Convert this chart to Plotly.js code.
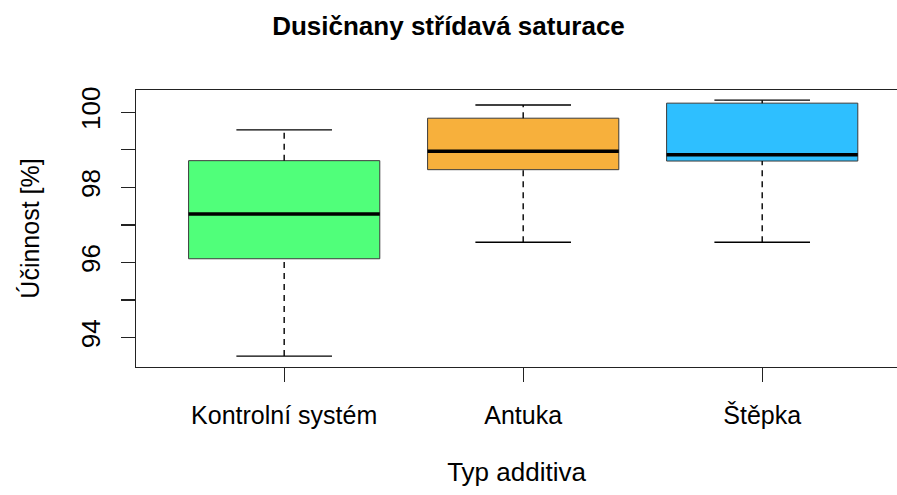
<!DOCTYPE html>
<html>
<head>
<meta charset="utf-8">
<script src="https://cdn.plot.ly/plotly-3.0.1.min.js"></script>
<style>html,body{margin:0;padding:0;background:#fff}#chart{width:897px;height:495px}</style>
</head>
<body>
<div id="chart"></div>
<script>
// Data
const categories = ["Kontrolní systém", "Antuka", "Štěpka"];
const lowerWhisker = [93.51, 96.54, 96.54];
const q1 = [96.10, 98.47, 98.70];
const median = [97.29, 98.96, 98.87];
const q3 = [98.71, 99.84, 100.24];
const upperWhisker = [99.53, 100.19, 100.32];
const colors = ["#50FF7A", "#F7B03C", "#2EBFFF"];
const yTickVals = [94, 95, 96, 97, 98, 99, 100];
const yTickText = ["94", "", "96", "", "98", "", "100"];

const pos = categories.map((c, i) => i + 1);
const boxW = 0.8;
const capW = 0.4;

const traces = [];
// boxes (Q1..Q3)
traces.push({
  type: "bar",
  x: pos,
  base: q1,
  y: q3.map((v, i) => v - q1[i]),
  width: boxW,
  marker: {color: colors, line: {color: "#3a3a3a", width: 1}},
  hoverinfo: "skip",
  showlegend: false
});
// whiskers, caps, medians
pos.forEach((p, i) => {
  traces.push({type: "scatter", mode: "lines", x: [p, p], y: [q3[i], upperWhisker[i]],
    line: {color: "#000", width: 1.4, dash: "6px,5px"}, showlegend: false, hoverinfo: "skip"});
  traces.push({type: "scatter", mode: "lines", x: [p, p], y: [lowerWhisker[i], q1[i]],
    line: {color: "#000", width: 1.4, dash: "6px,5px"}, showlegend: false, hoverinfo: "skip"});
  traces.push({type: "scatter", mode: "lines", x: [p - capW / 2, p + capW / 2], y: [upperWhisker[i], upperWhisker[i]],
    line: {color: "#000", width: 1.4}, showlegend: false, hoverinfo: "skip"});
  traces.push({type: "scatter", mode: "lines", x: [p - capW / 2, p + capW / 2], y: [lowerWhisker[i], lowerWhisker[i]],
    line: {color: "#000", width: 1.4}, showlegend: false, hoverinfo: "skip"});
  traces.push({type: "scatter", mode: "lines", x: [p - boxW / 2, p + boxW / 2], y: [median[i], median[i]],
    line: {color: "#000", width: 3.5}, showlegend: false, hoverinfo: "skip"});
});

const font = "Liberation Sans, Arial, Helvetica, sans-serif";
const layout = {
  width: 897, height: 495,
  margin: {l: 136, r: 0, t: 90, b: 128, pad: 0},
  paper_bgcolor: "#fff", plot_bgcolor: "#fff",
  font: {family: font, color: "#000", size: 25},
  title: {text: "<b>Dusičnany střídavá saturace</b>", x: 0.5, xref: "container", xanchor: "center",
    y: 1 - 26 / 495, yref: "container", yanchor: "middle", font: {size: 26, family: font, color: "#000"}},
  xaxis: {
    range: [0.38, 3.564], tickvals: pos, ticktext: categories,
    showgrid: false, zeroline: false, showline: true, mirror: true, linecolor: "#222", linewidth: 1.3,
    ticks: "outside", ticklen: 14, tickwidth: 1.3, tickcolor: "#222", ticklabelstandoff: 12,
    tickfont: {size: 25, family: font, color: "#000"},
    title: {text: "Typ additiva", standoff: 34, font: {size: 26, family: font, color: "#000"}}
  },
  yaxis: {
    range: [93.22, 100.59], tickvals: yTickVals, ticktext: yTickText, tickangle: -90,
    showgrid: false, zeroline: false, showline: true, mirror: false, linecolor: "#222", linewidth: 1.3,
    ticks: "outside", ticklen: 14, tickwidth: 1.3, tickcolor: "#222", ticklabelstandoff: 10,
    tickfont: {size: 26, family: font, color: "#000"},
    title: {text: "Účinnost [%]", standoff: 29, font: {size: 25, family: font, color: "#000"}}
  },
  bargap: 0
};

Plotly.newPlot("chart", traces, layout, {staticPlot: true, displayModeBar: false});
</script>
</body>
</html>
